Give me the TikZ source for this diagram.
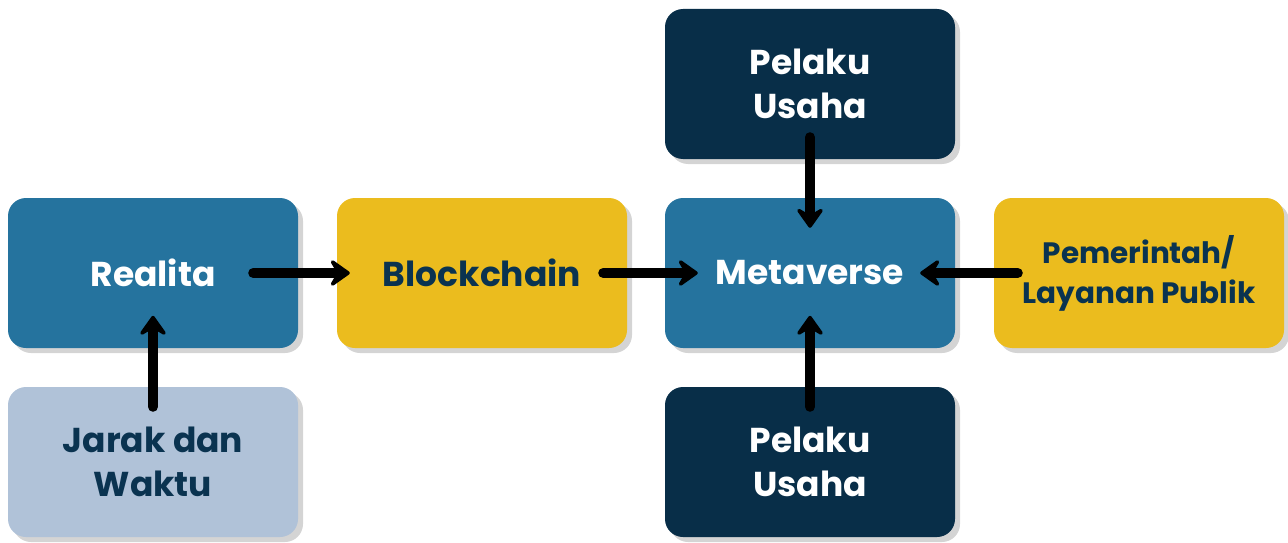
\documentclass[tikz,border=0pt]{standalone}
\usepackage{fontspec}
\setmainfont{Poppins}
\usetikzlibrary{arrows.meta,positioning,shadows}
\definecolor{midblue}{HTML}{25739E}
\definecolor{gold}{HTML}{EBBC1E}
\definecolor{navy}{HTML}{082E48}
\definecolor{paleblue}{HTML}{B0C2D8}
\definecolor{navytext}{HTML}{0A3350}
\tikzset{
  box/.style={rectangle, rounded corners=18pt, minimum width=290pt, minimum height=150pt, inner sep=0pt, align=center,
    font=\fontsize{34.5}{44}\selectfont\bfseries,
    drop shadow={shadow xshift=5pt, shadow yshift=-5pt, fill=black!17, opacity=1}},
  bluebox/.style={box, fill=midblue, text=white},
  goldbox/.style={box, fill=gold, text=navytext},
  darkbox/.style={box, fill=navy, text=white},
  palebox/.style={box, fill=paleblue, text=navytext},
  arrow/.style={-{Stealth[length=24pt, width=34pt, inset=10pt, round]}, line width=10pt, line cap=round, black}
}

\begin{document}
\begin{tikzpicture}[x=1pt, y=-1pt]
  \useasboundingbox (0,0) rectangle (1288,543);
  \node[bluebox] (realita) at (153,273) {Realita};
  \node[goldbox] (blockchain) at (482,273) {Blockchain};
  \node[bluebox] (metaverse) at (810,273) {Metaverse};
  \node[goldbox, font=\fontsize{29.5}{40}\selectfont\bfseries] (pemerintah) at (1139,273) {Pemerintah/\\Layanan Publik};
  \node[darkbox] (pelakuatas) at (810,84) {Pelaku\\Usaha};
  \node[darkbox] (pelakubawah) at (810,462) {Pelaku\\Usaha};
  \node[palebox] (jarak) at (153,462) {Jarak dan\\Waktu};
  \draw[arrow] ([xshift=-45pt]realita.east) -- ([xshift=13pt]blockchain.west);
  \draw[arrow] ([xshift=-24pt]blockchain.east) -- ([xshift=33pt]metaverse.west);
  \draw[arrow] ([xshift=24pt]pemerintah.west) -- ([xshift=-35pt]metaverse.east);
  \draw[arrow] ([yshift=22pt]pelakuatas.south) -- ([yshift=-30pt]metaverse.north);
  \draw[arrow] ([yshift=-20pt]pelakubawah.north) -- ([yshift=-118pt]metaverse.north);
  \draw[arrow] ([yshift=-20pt]jarak.north) -- ([yshift=-118pt]realita.north);
\end{tikzpicture}
\end{document}
